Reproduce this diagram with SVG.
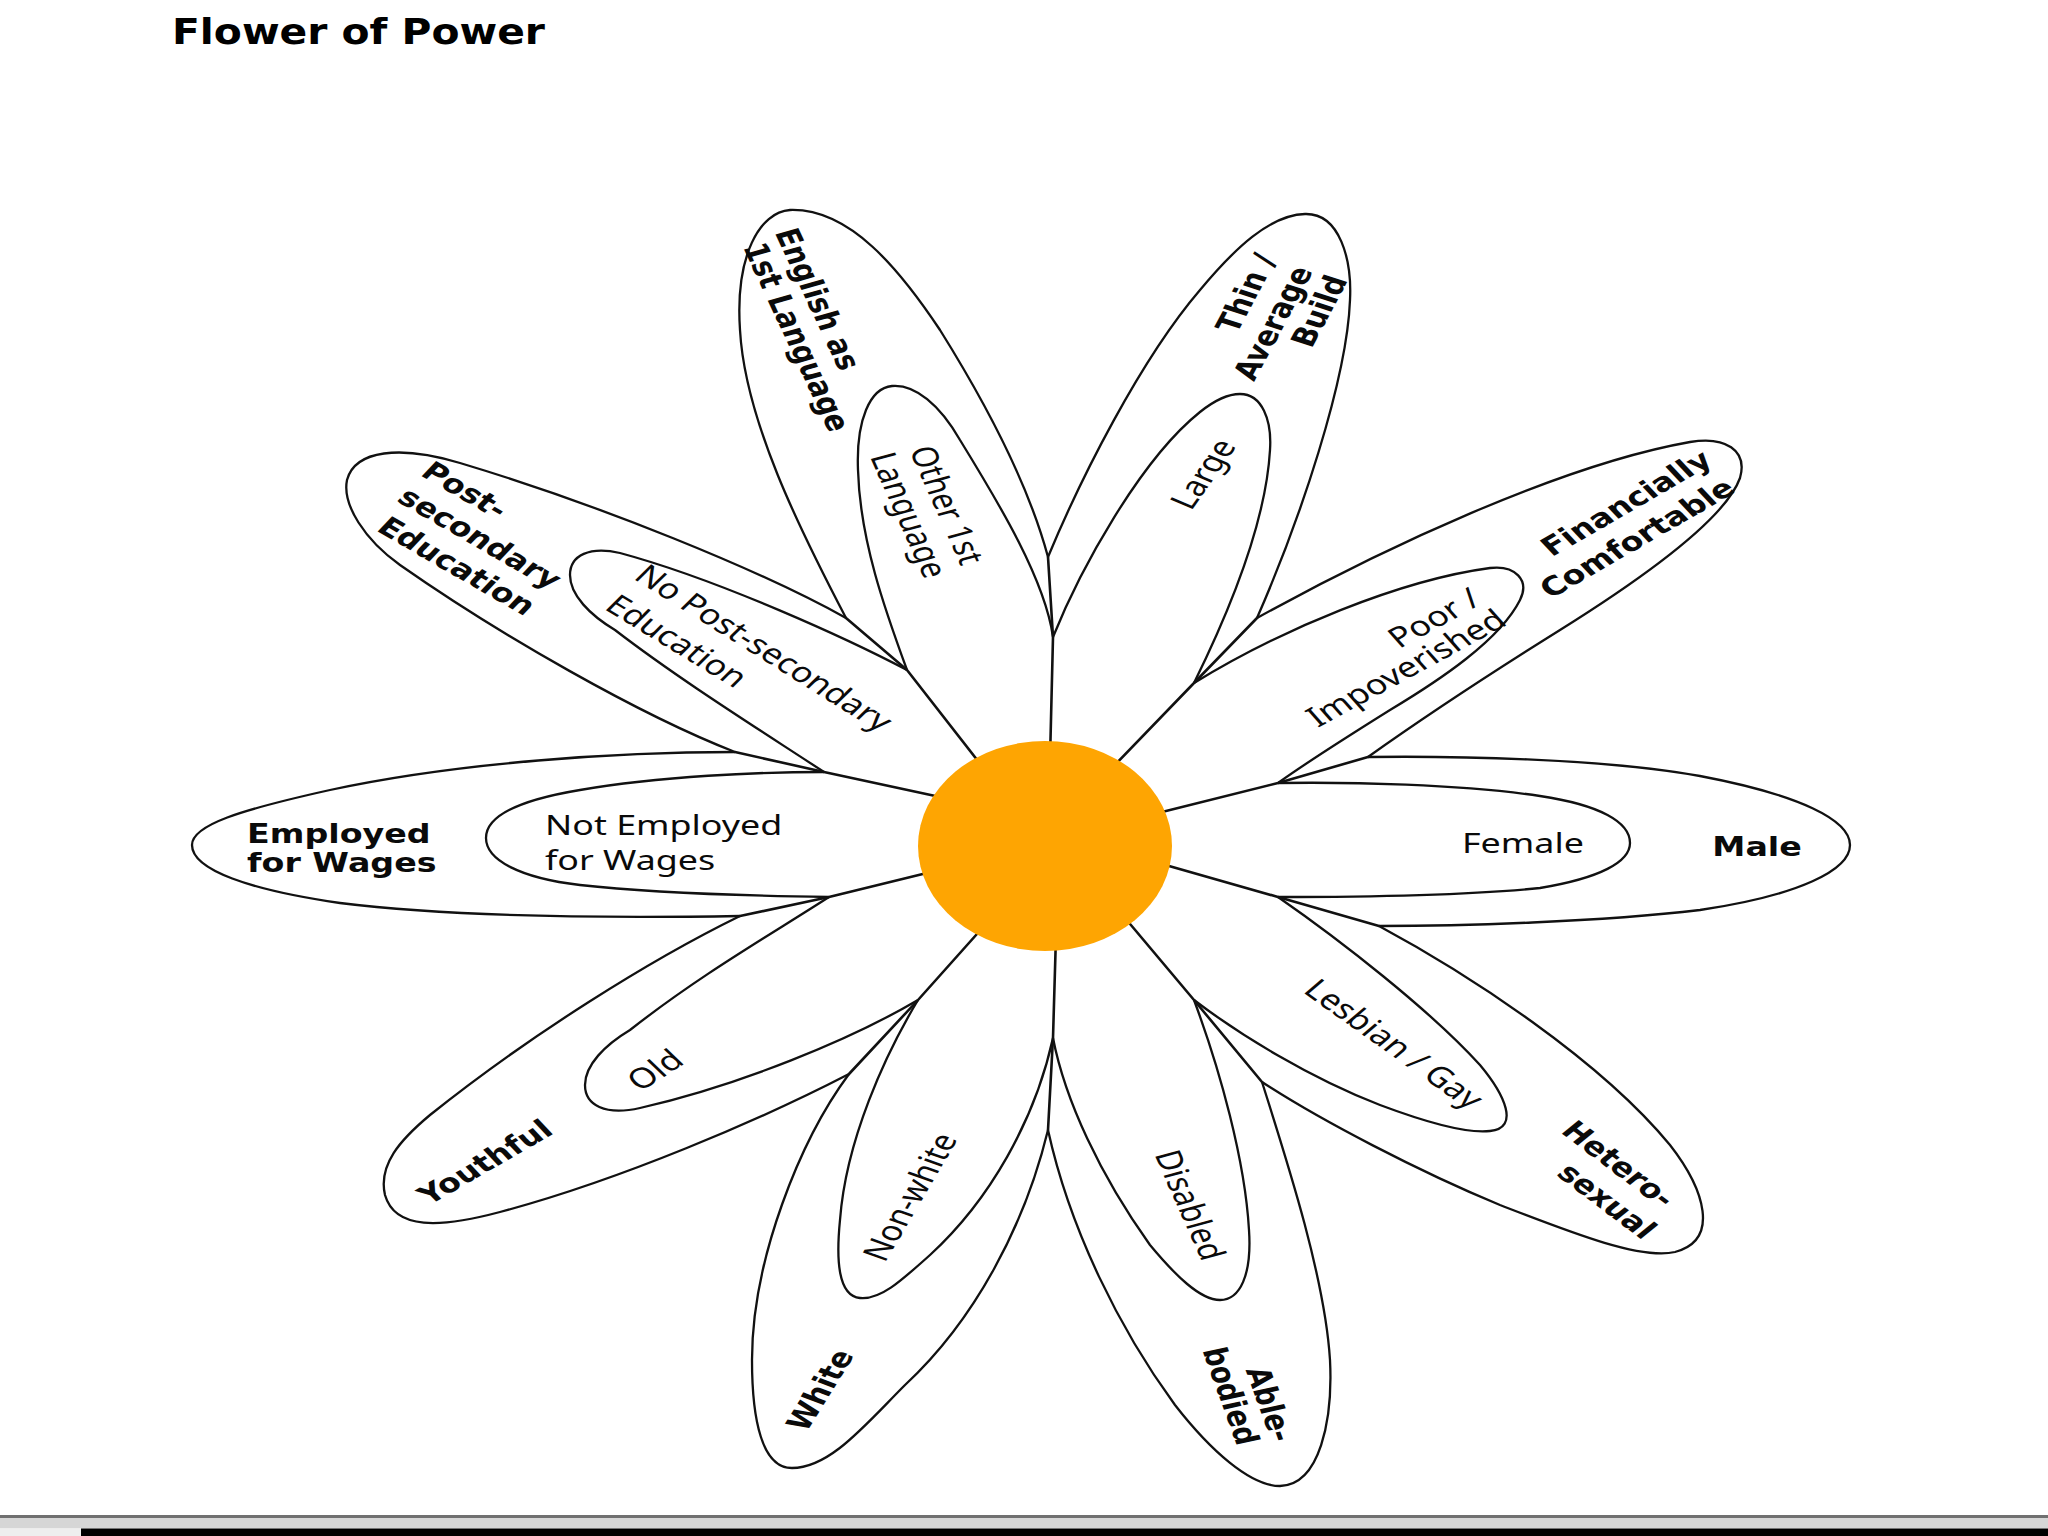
<svg xmlns="http://www.w3.org/2000/svg" width="2048" height="1536" viewBox="0 0 2048 1536">
<style>
.petal{fill:#fff;stroke:#111;stroke-width:2.3;stroke-linejoin:round}
.stem{fill:none;stroke:#111;stroke-width:2.6;stroke-linecap:round;stroke-linejoin:round}
.ob{font-family:"DejaVu Sans","Liberation Sans",sans-serif;font-weight:bold;font-size:26px;fill:#0a0a0a;text-anchor:middle}
.in{font-family:"Noto Sans","Open Sans",sans-serif;font-size:28px;fill:#0a0a0a;text-anchor:middle}
.st{text-anchor:start}
</style>
<rect width="2048" height="1536" fill="#ffffff"/>
<text x="172" y="44" font-family="DejaVu Sans, Liberation Sans, sans-serif" font-weight="bold" font-size="36" textLength="373" lengthAdjust="spacingAndGlyphs" fill="#000">Flower of Power</text>

<!-- outer petals -->
<g id="petal-english">
<path class="petal" d="M846,618 C800,530 745,420 740,330 C735,255 760,212 790,210 C850,208 900,270 940,330 C990,410 1030,490 1048,557"/>
<g transform="scale(1.28,1)">
<text class="ob" transform="translate(639.1,299) rotate(70)" dy="0.35em">English as</text>
<text class="ob" transform="translate(622.7,337) rotate(70)" dy="0.35em">1st Language</text>
</g></g>
<g id="petal-thin">
<path class="petal" d="M1048,557 C1080,480 1140,360 1200,290 C1235,248 1270,215 1305,214 C1340,213 1352,260 1350,300 C1347,380 1300,520 1257,618"/>
<g transform="scale(1.28,1)">
<text class="ob" transform="translate(973.4,293) rotate(-67.4)" dy="0.35em">Thin /</text>
<text class="ob" transform="translate(994.5,323) rotate(-67.4)" dy="0.35em">Average</text>
<text class="ob" transform="translate(1030.5,311) rotate(-67.4)" dy="0.35em">Build</text>
</g></g>
<g id="petal-financially">
<path class="petal" d="M1257,618 C1380,550 1560,465 1690,442 C1725,436 1748,450 1740,478 C1725,520 1640,580 1560,630 C1480,680 1420,720 1368,757"/>
<g transform="scale(1.28,1)">
<text class="ob" transform="translate(1270.3,503) rotate(-36.5)" dy="0.35em">Financially</text>
<text class="ob" transform="translate(1278.9,538) rotate(-36.5)" dy="0.35em">Comfortable</text>
</g></g>
<g id="petal-male">
<path class="petal" d="M1368,757 C1450,756 1600,758 1700,776 C1800,795 1850,820 1850,845 C1850,870 1800,895 1700,910 C1600,922 1460,926 1379,926"/>
<g transform="scale(1.28,1)">
<text class="ob" x="1372.7" y="856">Male</text>
</g></g>
<g id="petal-heterosexual">
<path class="petal" d="M1379,926 C1470,975 1600,1060 1670,1145 C1705,1190 1720,1240 1675,1252 C1640,1260 1570,1232 1500,1205 C1420,1172 1320,1120 1262,1082"/>
<g transform="scale(1.28,1)">
<text class="ob" transform="translate(1264.8,1164) rotate(44)" dy="0.35em">Hetero-</text>
<text class="ob" transform="translate(1255.5,1201) rotate(44)" dy="0.35em">sexual</text>
</g></g>
<g id="petal-ablebodied">
<path class="petal" d="M1262,1082 C1290,1170 1325,1280 1330,1360 C1333,1420 1320,1485 1280,1486 C1250,1486 1210,1450 1175,1405 C1120,1330 1070,1230 1048,1130"/>
<g transform="scale(1.28,1)">
<text class="ob" transform="translate(992.2,1404) rotate(74.1)" dy="0.35em">Able-</text>
<text class="ob" transform="translate(961.7,1396) rotate(74.1)" dy="0.35em">bodied</text>
</g></g>
<g id="petal-white">
<path class="petal" d="M1048,1130 C1025,1225 975,1320 905,1385 C865,1425 830,1468 792,1468 C762,1468 752,1420 752,1360 C752,1260 800,1140 849,1074"/>
<g transform="scale(1.28,1)">
<text class="ob" transform="translate(640.6,1390) rotate(-64)" dy="0.35em">White</text>
</g></g>
<g id="petal-youthful">
<path class="petal" d="M849,1074 C760,1120 620,1180 500,1212 C440,1228 395,1230 385,1195 C378,1165 400,1140 430,1115 C530,1035 650,960 740,916"/>
<g transform="scale(1.28,1)">
<text class="ob" transform="translate(378.9,1162) rotate(-36.5)" dy="0.35em">Youthful</text>
</g></g>
<g id="petal-employed">
<path class="petal" d="M735,752 C620,752 460,762 330,790 C240,810 192,825 192,845 C192,870 250,890 340,903 C460,918 620,918 740,916"/>
<g transform="scale(1.28,1)">
<text class="ob st" x="193" y="843">Employed</text>
<text class="ob st" x="193" y="872">for Wages</text>
</g></g>
<g id="petal-postsecondary">
<path class="petal" d="M846,618 C760,570 600,505 460,463 C400,445 355,450 347,480 C342,505 365,540 400,565 C500,635 640,715 735,752"/>
<g transform="scale(1.28,1)">
<text class="ob" transform="translate(363.3,490) rotate(36.5)" dy="0.35em">Post-</text>
<text class="ob" transform="translate(375,538) rotate(36.5)" dy="0.35em">secondary</text>
<text class="ob" transform="translate(357,566) rotate(36.5)" dy="0.35em">Education</text>
</g></g>

<!-- inner petals -->
<g id="petal-other-language">
<path class="petal" d="M907,670 C885,610 860,540 858,470 C856,420 870,388 892,386 C915,384 940,405 960,440 C1000,505 1045,580 1053,637"/>
<g transform="scale(1.28,1)">
<text class="in" transform="translate(739.8,505) rotate(70.8)" dy="0.35em">Other 1st</text>
<text class="in" transform="translate(710.2,515) rotate(70.8)" dy="0.35em">Language</text>
</g></g>
<g id="petal-large">
<path class="petal" d="M1053,637 C1080,570 1140,460 1200,412 C1215,400 1228,394 1240,394 C1262,394 1272,420 1270,450 C1266,520 1230,610 1194,683"/>
<g transform="scale(1.28,1)">
<text class="in" transform="translate(939.8,474) rotate(-61.3)" dy="0.35em">Large</text>
</g></g>
<g id="petal-poor">
<path class="petal" d="M1194,683 C1280,630 1400,580 1490,568 C1515,565 1530,580 1520,600 C1500,640 1440,680 1390,710 C1350,735 1310,760 1278,783"/>
<g transform="scale(1.28,1)">
<text class="in" transform="translate(1120.3,618) rotate(-34.9)" dy="0.35em">Poor /</text>
<text class="in" transform="translate(1098.4,668) rotate(-34.9)" dy="0.35em">Impoverished</text>
</g></g>
<g id="petal-female">
<path class="petal" d="M1278,783 C1350,782 1460,784 1540,796 C1600,805 1630,822 1630,843 C1630,862 1600,878 1540,888 C1460,896 1350,897 1278,897"/>
<g transform="scale(1.28,1)">
<text class="in" x="1189.8" y="853">Female</text>
</g></g>
<g id="petal-lesbian-gay">
<path class="petal" d="M1278,897 C1340,940 1430,1010 1480,1065 C1505,1095 1520,1128 1490,1131 C1465,1134 1420,1120 1380,1105 C1310,1078 1240,1035 1194,1000"/>
<g transform="scale(1.28,1)">
<text class="in" transform="translate(1089.1,1044) rotate(42.3)" dy="0.35em">Lesbian / Gay</text>
</g></g>
<g id="petal-disabled">
<path class="petal" d="M1194,1000 C1220,1070 1245,1160 1249,1230 C1252,1275 1240,1300 1220,1300 C1200,1300 1175,1275 1150,1245 C1100,1175 1065,1100 1053,1038"/>
<g transform="scale(1.28,1)">
<text class="in" transform="translate(929.7,1205) rotate(70.8)" dy="0.35em">Disabled</text>
</g></g>
<g id="petal-nonwhite">
<path class="petal" d="M1053,1038 C1035,1120 990,1200 930,1255 C900,1282 880,1300 860,1298 C838,1296 836,1260 840,1220 C846,1140 885,1055 918,1000"/>
<g transform="scale(1.28,1)">
<text class="in" transform="translate(710.9,1197) rotate(-65.3)" dy="0.35em">Non-white</text>
</g></g>
<g id="petal-old">
<path class="petal" d="M918,1000 C850,1040 740,1085 640,1108 C605,1116 585,1105 585,1085 C585,1065 605,1045 630,1030 C700,975 770,935 829,897"/>
<g transform="scale(1.28,1)">
<text class="in" transform="translate(511.7,1070) rotate(-39.2)" dy="0.35em">Old</text>
</g></g>
<g id="petal-not-employed">
<path class="petal" d="M824,772 C760,772 660,776 580,790 C520,800 486,815 486,838 C486,860 520,878 580,885 C660,894 760,896 829,897"/>
<g transform="scale(1.28,1)">
<text class="in st" x="425.8" y="835">Not Employed</text>
<text class="in st" x="425.8" y="870">for Wages</text>
</g></g>
<g id="petal-no-postsecondary">
<path class="petal" d="M907,670 C850,640 720,580 620,553 C590,546 570,555 570,575 C570,595 590,615 615,630 C680,680 760,730 824,772"/>
<g transform="scale(1.28,1)">
<text class="in" transform="translate(596.9,648) rotate(38.7)" dy="0.35em">No Post-secondary</text>
<text class="in" transform="translate(528.9,641) rotate(38)" dy="0.35em">Education</text>
</g></g>

<g id="connectors">
<polyline class="stem" points="1050,760 1053,637 1048,557"/>
<polyline class="stem" points="1110,770 1194,683 1257,618"/>
<polyline class="stem" points="1150,815 1278,783 1368,757"/>
<polyline class="stem" points="1155,862 1278,897 1379,926"/>
<polyline class="stem" points="1120,912 1194,1000 1262,1082"/>
<polyline class="stem" points="1056,935 1053,1038 1048,1130"/>
<polyline class="stem" points="985,925 918,1000 849,1074"/>
<polyline class="stem" points="935,871 829,897 740,916"/>
<polyline class="stem" points="940,797 824,772 735,752"/>
<polyline class="stem" points="985,770 907,670 846,618"/>
</g>

<g id="center">
<ellipse cx="1045" cy="846" rx="127" ry="105" fill="#fea502"/>
</g>

<rect x="0" y="1515" width="2048" height="3" fill="#707070"/>
<rect x="0" y="1518" width="2048" height="10.5" fill="#d6d6d6"/>
<rect x="81" y="1528.5" width="1967" height="7.5" fill="#000"/>
<rect x="0" y="1528.5" width="81" height="7.5" fill="#eeeeee"/>
</svg>
